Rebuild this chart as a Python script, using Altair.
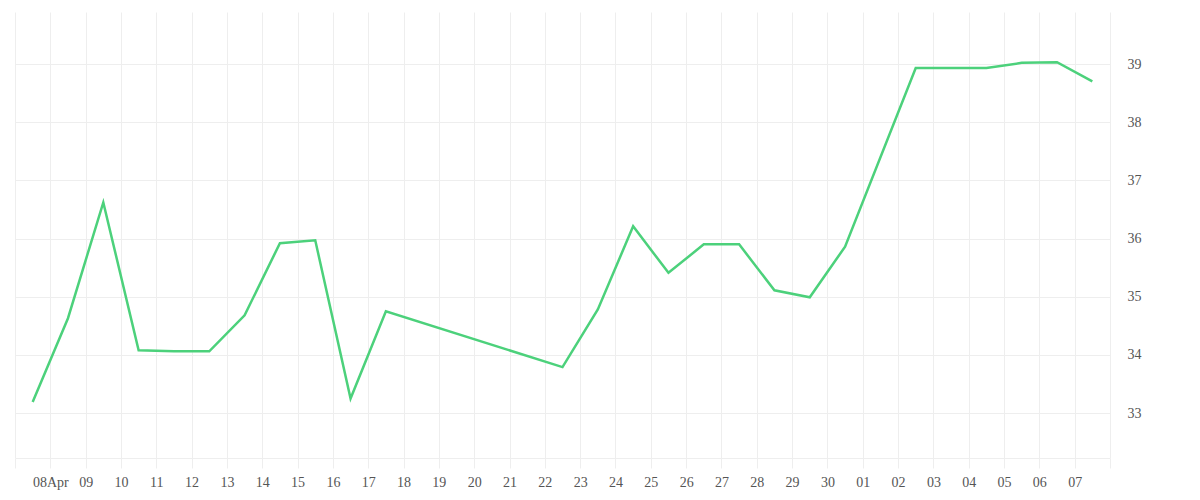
import altair as alt
import pandas as pd

# data (points at midday of each date)
dates = [
    "2024-04-07T12:00:00Z", "2024-04-08T12:00:00Z", "2024-04-09T12:00:00Z",
    "2024-04-10T12:00:00Z", "2024-04-11T12:00:00Z", "2024-04-12T12:00:00Z",
    "2024-04-13T12:00:00Z", "2024-04-14T12:00:00Z", "2024-04-15T12:00:00Z",
    "2024-04-16T12:00:00Z", "2024-04-17T12:00:00Z", "2024-04-22T12:00:00Z",
    "2024-04-23T12:00:00Z", "2024-04-24T12:00:00Z", "2024-04-25T12:00:00Z",
    "2024-04-26T12:00:00Z", "2024-04-27T12:00:00Z", "2024-04-28T12:00:00Z",
    "2024-04-29T12:00:00Z", "2024-04-30T12:00:00Z", "2024-05-02T12:00:00Z",
    "2024-05-04T12:00:00Z", "2024-05-05T12:00:00Z", "2024-05-06T12:00:00Z",
    "2024-05-07T12:00:00Z",
]
values = [
    33.19, 34.63, 36.62, 34.08, 34.06, 34.06, 34.68, 35.92, 35.97, 33.25,
    34.75, 33.79, 34.78, 36.21, 35.41, 35.90, 35.90, 35.11, 34.99, 35.86,
    38.93, 38.93, 39.02, 39.03, 38.70,
]
y_ticks = [33, 34, 35, 36, 37, 38, 39]
y_domain = [32.227, 39.894]

df = pd.DataFrame({"date": dates, "value": values})

FONT = "Liberation Serif"
GRID = "#eeeeee"
TEXT = "#555555"

label_expr = (
    "(utcmonth(datum.value)==3 && utcdate(datum.value)==7) || "
    "(utcmonth(datum.value)==4 && utcdate(datum.value)==8) ? '' : "
    "(utcmonth(datum.value)==3 && utcdate(datum.value)==8 ? '08Apr' : "
    "utcFormat(datum.value, '%d'))"
)

chart = (
    alt.Chart(df)
    .mark_line(color="#4cd17b", strokeWidth=2.5)
    .encode(
        x=alt.X(
            "date:T",
            scale=alt.Scale(
                type="utc",
                domain=[
                    alt.DateTime(year=2024, month=4, date=7, utc=True),
                    alt.DateTime(year=2024, month=5, date=8, utc=True),
                ],
                nice=False,
            ),
            axis=alt.Axis(
                title=None,
                tickCount=alt.TimeIntervalStep(interval="day", step=1),
                labelExpr=label_expr,
                grid=True,
                gridColor=GRID,
                gridWidth=1,
                domainColor=GRID,
                domainWidth=1,
                tickColor=GRID,
                tickSize=10,
                tickWidth=1,
                labelPadding=7,
                labelFont=FONT,
                labelFontSize=14,
                labelColor=TEXT,
                labelOverlap=False,
                labelFlush=False,
            ),
        ),
        y=alt.Y(
            "value:Q",
            scale=alt.Scale(domain=y_domain, nice=False, zero=False),
            axis=alt.Axis(
                title=None,
                orient="right",
                values=y_ticks,
                grid=True,
                gridColor=GRID,
                gridWidth=1,
                domain=False,
                ticks=False,
                labelPadding=17,
                labelFont=FONT,
                labelFontSize=14,
                labelColor=TEXT,
                labelAlign="left",
            ),
        ),
    )
    .properties(
        width=1095,
        height=446,
        padding={"left": 6, "top": 4, "right": 5, "bottom": 5},
    )
    .configure_view(stroke=None)
)

chart.save("out.html", embed_options={"renderer": "svg", "actions": False})
